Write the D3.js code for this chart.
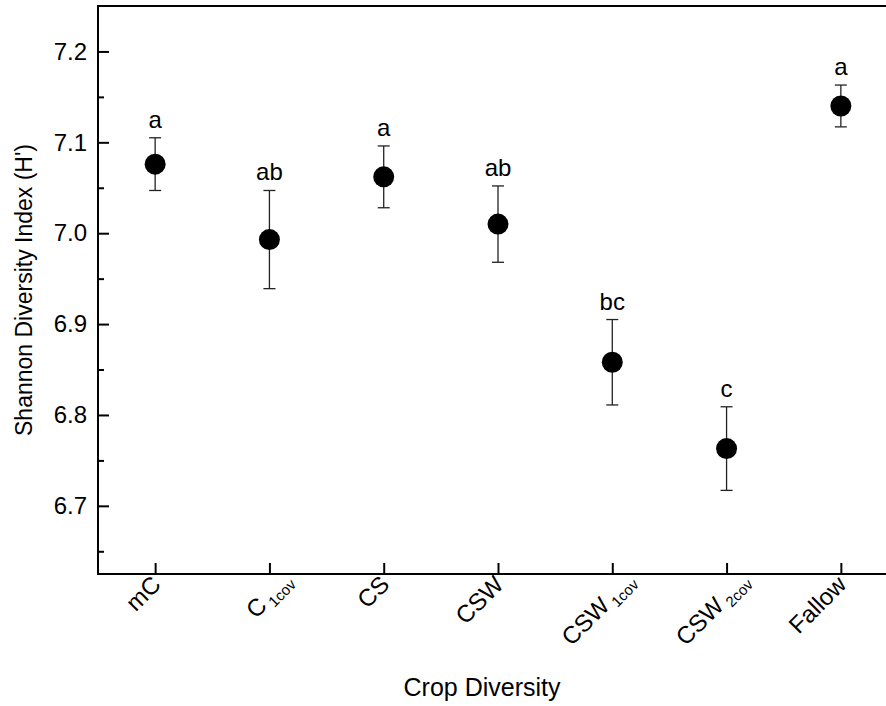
<!DOCTYPE html>
<html>
<head>
<meta charset="utf-8">
<script src="https://cdn.jsdelivr.net/npm/d3@7"></script>
<style>
  body { margin: 0; background: #fff; overflow: hidden; }
  svg { display: block; overflow: hidden; }
  text { font-family: Arial, "Liberation Sans", sans-serif; fill: #000; }
</style>
</head>
<body>
<div id="chart"></div>
<script>
// treatments along the x axis (main name + subscript)
var categories = ["mC", "C", "CS", "CSW", "CSW", "CSW", "Fallow"];
var subscripts = ["", "1cov", "", "", "1cov", "2cov", ""];
// mean Shannon index and error bar ends
var means = [7.076, 6.993, 7.062, 7.010, 6.858, 6.763, 7.140];
var upper = [7.105, 7.047, 7.096, 7.052, 6.905, 6.809, 7.163];
var lower = [7.047, 6.939, 7.028, 6.968, 6.811, 6.717, 7.117];
var letters = ["a", "ab", "a", "ab", "bc", "c", "a"];
var yTicks = [6.7, 6.8, 6.9, 7.0, 7.1, 7.2];
var yMinorTicks = [6.65, 6.75, 6.85, 6.95, 7.05, 7.15];

var w = 886, h = 706;
var padL = 98, padT = 6, padB = 574, padR = 898;

var svg = d3.select("#chart").append("svg")
  .attr("width", w)
  .attr("height", h);

var x = d3.scalePoint()
  .domain(d3.range(categories.length))
  .range([padL, padR])
  .padding(0.5);

var y = d3.scaleLinear()
  .domain([6.625, 7.25])
  .range([padB, padT]);

// error bars
var bars = svg.append("g").selectAll("g")
  .data(means)
  .enter().append("g");

bars.append("line")
  .attr("x1", function(d, i) { return x(i); })
  .attr("x2", function(d, i) { return x(i); })
  .attr("y1", function(d, i) { return y(upper[i]); })
  .attr("y2", function(d, i) { return y(lower[i]); })
  .style("stroke", "#222").style("stroke-width", 1.3);

[upper, lower].forEach(function(arr) {
  bars.append("line")
    .attr("x1", function(d, i) { return x(i) - 6; })
    .attr("x2", function(d, i) { return x(i) + 6; })
    .attr("y1", function(d, i) { return y(arr[i]); })
    .attr("y2", function(d, i) { return y(arr[i]); })
    .style("stroke", "#222").style("stroke-width", 1.3);
});

bars.append("circle")
  .attr("cx", function(d, i) { return x(i); })
  .attr("cy", function(d) { return y(d); })
  .attr("r", 10.5)
  .style("fill", "#000");

bars.append("text")
  .attr("x", function(d, i) { return x(i); })
  .attr("y", function(d, i) { return y(upper[i]) - 10; })
  .attr("text-anchor", "middle")
  .style("font-size", "24px")
  .text(function(d, i) { return letters[i]; });

// y axis, ticks pointing inward
var yAxis = svg.append("g")
  .attr("transform", "translate(" + padL + ",0)")
  .call(d3.axisLeft(y).tickValues(yTicks).tickSize(-11).tickPadding(11)
    .tickFormat(d3.format(".1f")));
yAxis.select(".domain").remove();
yAxis.selectAll("line").style("stroke", "#000").style("stroke-width", 2);
yAxis.selectAll("text").style("font-size", "24px").style("font-family", "Arial, 'Liberation Sans', sans-serif");

var yMinor = svg.append("g")
  .attr("transform", "translate(" + padL + ",0)")
  .call(d3.axisLeft(y).tickValues(yMinorTicks).tickSize(-6).tickFormat(""));
yMinor.select(".domain").remove();
yMinor.selectAll("line").style("stroke", "#000").style("stroke-width", 2);

// x axis ticks pointing up
var xAxis = svg.append("g")
  .attr("transform", "translate(0," + padB + ")")
  .call(d3.axisBottom(x).tickSize(-11).tickFormat(""));
xAxis.select(".domain").remove();
xAxis.selectAll("line").style("stroke", "#000").style("stroke-width", 2);

// frame: top, left, bottom as separate lines (right side is beyond the picture)
var frame = svg.append("g");
frame.append("line").attr("x1", padL).attr("x2", w + 20).attr("y1", padT).attr("y2", padT);
frame.append("line").attr("x1", padL).attr("x2", w + 20).attr("y1", padB).attr("y2", padB);
frame.append("line").attr("x1", padL).attr("x2", padL).attr("y1", padT - 1).attr("y2", padB + 1);
frame.selectAll("line").style("stroke", "#000").style("stroke-width", 2);

// rotated category labels
var labels = svg.append("g").selectAll("text")
  .data(categories)
  .enter().append("text")
  .attr("text-anchor", "end")
  .style("font-size", "24px")
  .attr("transform", function(d, i) {
    if (subscripts[i]) return "translate(" + (x(i) + 24) + ",582) rotate(-45)";
    return "translate(" + (x(i) + 7) + ",586) rotate(-45)";
  });

labels.append("tspan").text(function(d) { return d; });
labels.append("tspan")
  .attr("dx", 4)
  .attr("dy", 5)
  .style("font-size", "15px")
  .text(function(d, i) { return subscripts[i]; });

// axis titles
svg.append("text")
  .attr("x", 482)
  .attr("y", 696)
  .attr("text-anchor", "middle")
  .style("font-size", "25px")
  .text("Crop Diversity");

svg.append("text")
  .attr("transform", "translate(32," + (padT + padB) / 2 + ") rotate(-90)")
  .attr("text-anchor", "middle")
  .style("font-size", "23px")
  .text("Shannon Diversity Index (H')");
</script>
</body>
</html>
